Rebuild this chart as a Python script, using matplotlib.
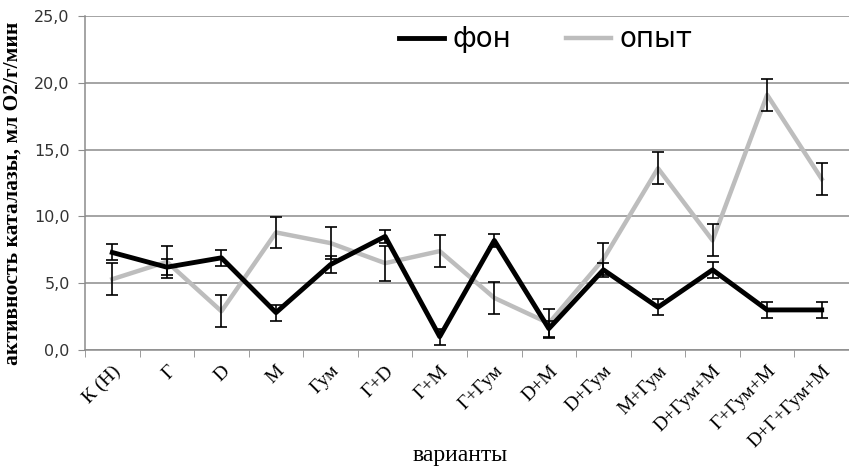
import numpy as np
import matplotlib
matplotlib.use('Agg')
import matplotlib.pyplot as plt

# варианты опыта
variants = ['К (Н)', 'Г', 'D', 'М', 'Гум', 'Г+D', 'Г+М', 'Г+Гум', 'D+М',
            'D+Гум', 'М+Гум', 'D+Гум+М', 'Г+Гум+М', 'D+Г+Гум+М']

# активность каталазы
fon = [7.3, 6.2, 6.9, 2.8, 6.4, 8.5, 1.0, 8.2, 1.6, 6.0, 3.2, 6.0, 3.0, 3.0]
fon_err = [0.6, 0.6, 0.6, 0.6, 0.6, 0.5, 0.6, 0.5, 0.6, 0.5, 0.6, 0.6, 0.6, 0.6]
opyt = [5.3, 6.6, 2.9, 8.8, 8.0, 6.5, 7.4, 3.9, 2.0, 6.8, 13.6, 8.2, 19.1, 12.8]
opyt_err = [1.2, 1.2, 1.2, 1.15, 1.2, 1.3, 1.2, 1.2, 1.1, 1.2, 1.2, 1.2, 1.2, 1.2]

yticks = [0, 5, 10, 15, 20, 25]

x = np.arange(len(variants))

fig = plt.figure(figsize=(8.49, 4.72), dpi=100)
ax = fig.add_axes([85 / 849, 1 - 350 / 472, 1 - 85 / 849, (350 - 16) / 472])

ax.plot(x, opyt, color='#bdbdbd', lw=3.2, label='опыт', zorder=2)
ax.plot(x, fon, color='black', lw=3.5, label='фон', zorder=3)
ax.errorbar(x, opyt, yerr=opyt_err, fmt='none', ecolor='black',
            elinewidth=1.2, capsize=4, capthick=1.2, zorder=4)
ax.errorbar(x, fon, yerr=fon_err, fmt='none', ecolor='black',
            elinewidth=1.2, capsize=4, capthick=1.2, zorder=4)

ax.set_xlim(-0.5, len(variants) - 0.5)
ax.set_ylim(0, 25)
ax.set_yticks(yticks)
ax.set_yticklabels([('%.1f' % v).replace('.', ',') for v in yticks],
                   fontsize=11.5, color='#333333')
ax.yaxis.grid(True, color='#8c8c8c', lw=1.1)
ax.set_axisbelow(True)

ax.set_xticks(x)
ax.set_xticklabels(variants, rotation=45, ha='right', rotation_mode='anchor',
                   family='Liberation Serif', fontsize=14)
ax.set_xticks(np.arange(len(variants)) - 0.5, minor=True)
ax.tick_params(axis='x', which='major', length=0, pad=9)
ax.tick_params(axis='x', which='minor', length=5, color='#8c8c8c')
ax.tick_params(axis='y', length=5, color='#8c8c8c', pad=6)

for s in ['top', 'right']:
    ax.spines[s].set_visible(False)
for s in ['left', 'bottom']:
    ax.spines[s].set_color('#8c8c8c')
    ax.spines[s].set_linewidth(1.1)

ax.set_ylabel('активность каталазы, мл О2/г/мин', family='Liberation Serif',
              fontweight='bold', fontsize=15.5)
ax.yaxis.set_label_coords(-0.082, 0.47)
fig.text(460 / 849, 1 - 455 / 472, 'варианты', family='Liberation Serif',
         fontsize=17, ha='center', va='center')

h, l = ax.get_legend_handles_labels()
leg = ax.legend(h[::-1], l[::-1], loc='center', bbox_to_anchor=(0.603, 0.93),
                ncol=2, frameon=False, fontsize=20, handlelength=1.6,
                handletextpad=0.3, columnspacing=2.0)

fig.savefig('out.png', dpi=100)
